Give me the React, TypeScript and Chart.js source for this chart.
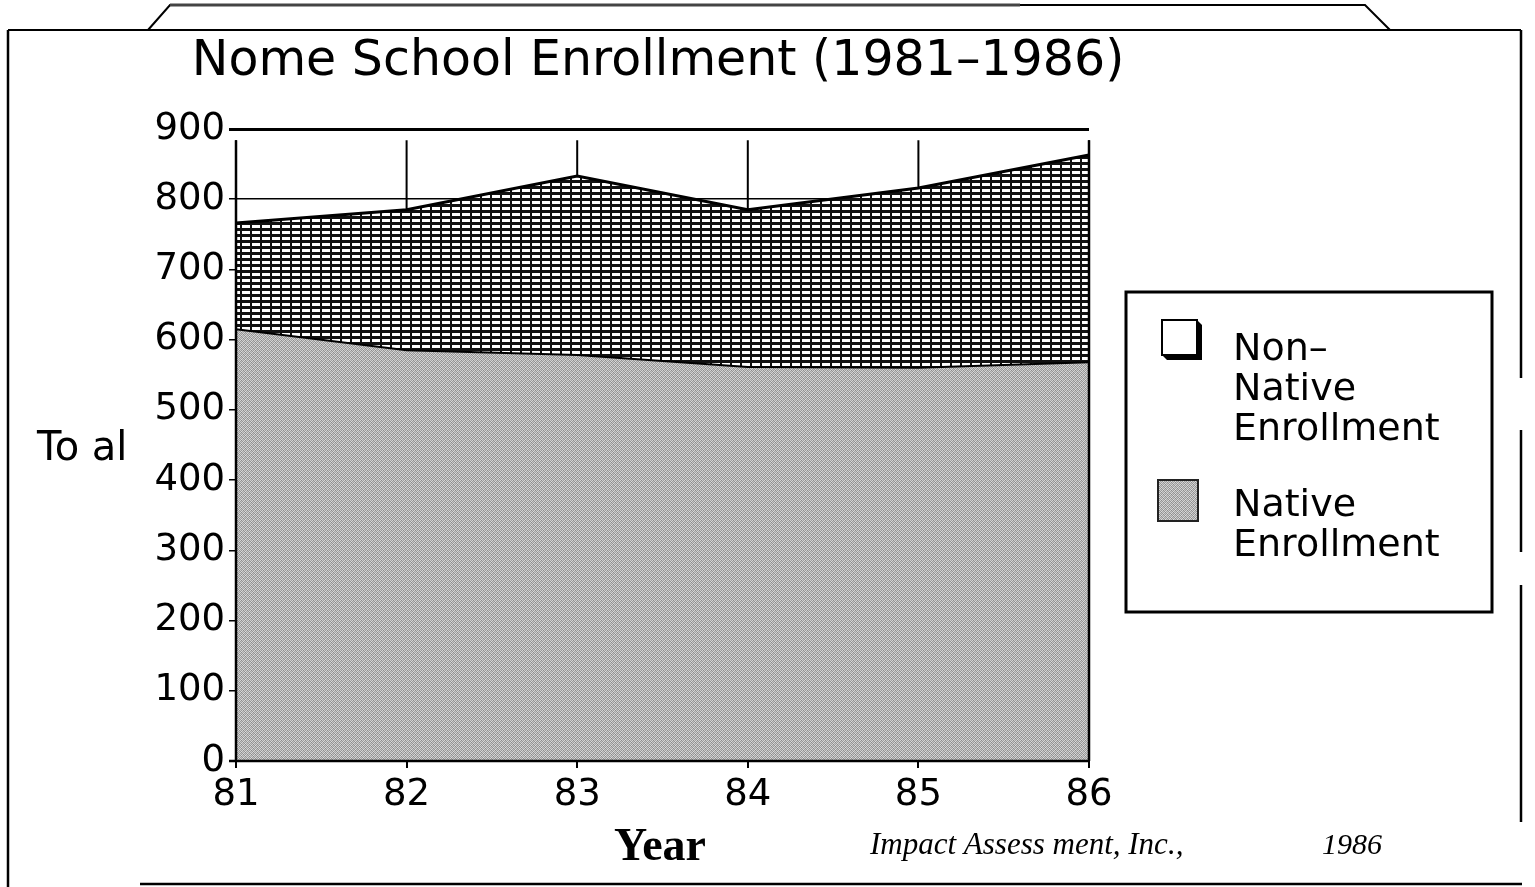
import React, { useEffect, useRef } from "react";
import { Chart, registerables } from "chart.js";

Chart.register(...registerables);

// ---- data ----
const years = ["81", "82", "83", "84", "85", "86"];
const nativeEnrollment = [615, 585, 578, 561, 560, 568];
const nonNativeEnrollment = [151, 200, 255, 224, 256, 295];
const yMin = 0;
const yMax = 900;
const yStep = 100;
const gridTopValue = 884;

const titleText = "Nome School Enrollment (1981\u20131986)";
const yAxisLabel = "To al";
const xAxisLabel = "Year";
const creditText = "Impact Assess ment, Inc.,";
const creditYear = "1986";
const nonNativeLegend = ["Non\u2013", "Native", "Enrollment"];
const nativeLegend = ["Native", "Enrollment"];

const SANS = '"DejaVu Sans", "Noto Sans", sans-serif';
const SERIF = '"Liberation Serif", "DejaVu Serif", serif';

function makeHatch(): CanvasPattern | string {
  const c = document.createElement("canvas");
  c.width = 10;
  c.height = 6;
  const g = c.getContext("2d");
  if (!g) return "#888";
  g.fillStyle = "#ffffff";
  g.fillRect(0, 0, 10, 6);
  g.fillStyle = "#111111";
  g.fillRect(0, 0, 2, 6);
  g.fillRect(0, 0, 10, 3);
  return g.createPattern(c, "repeat") || "#888";
}

const stippleTile = [
  [0xd4, 0x8c, 0xcc, 0xa4],
  [0x9c, 0xc4, 0x94, 0xdc],
  [0xcc, 0x9c, 0xd4, 0x8c],
  [0x94, 0xdc, 0xa4, 0xc4],
];

function makeStipple(): CanvasPattern | string {
  const c = document.createElement("canvas");
  c.width = 4;
  c.height = 4;
  const g = c.getContext("2d");
  if (!g) return "#bbb";
  stippleTile.forEach((row, yy) =>
    row.forEach((v, xx) => {
      g.fillStyle = `rgb(${v},${v},${v})`;
      g.fillRect(xx, yy, 1, 1);
    })
  );
  return g.createPattern(c, "repeat") || "#bbb";
}

function line(ctx: CanvasRenderingContext2D, pts: number[][], w = 2, color = "#000") {
  ctx.save();
  ctx.strokeStyle = color;
  ctx.lineWidth = w;
  ctx.beginPath();
  pts.forEach((p, i) => (i === 0 ? ctx.moveTo(p[0], p[1]) : ctx.lineTo(p[0], p[1])));
  ctx.stroke();
  ctx.restore();
}

const decorPlugin = {
  id: "decor",
  beforeDatasetsDraw(chart: any) {
    const { ctx } = chart;
    const xs = chart.scales.x;
    const ys = chart.scales.y;
    const top = ys.getPixelForValue(gridTopValue);
    const bottom = ys.getPixelForValue(0);
    xs.ticks.forEach((_: any, i: number) => {
      const px = xs.getPixelForTick(i);
      line(ctx, [[px, top], [px, bottom]], 2);
    });
  },
  afterDatasetsDraw(chart: any) {
    const { ctx } = chart;
    const xs = chart.scales.x;
    const ys = chart.scales.y;
    const top = ys.getPixelForValue(gridTopValue);
    const bottom = ys.getPixelForValue(0);
    const n = xs.ticks.length;
    [0, n - 1].forEach((i) => {
      const px = xs.getPixelForTick(i);
      line(ctx, [[px, top], [px, bottom]], 2.5);
    });
    line(ctx, [[xs.left - 7, bottom], [xs.right + 1, bottom]], 2.5);
  },
  afterDraw(chart: any) {
    const { ctx } = chart;
    const area = chart.chartArea;
    const stipple = chart.data.datasets[0].backgroundColor;
    ctx.save();
    ctx.fillStyle = "#000";
    ctx.textBaseline = "alphabetic";

    // title
    ctx.font = `49px ${SANS}`;
    ctx.textAlign = "center";
    ctx.fillText(titleText, 658, 75);

    // y label
    ctx.font = `40px ${SANS}`;
    ctx.textAlign = "left";
    ctx.fillText(yAxisLabel, 37, 460);

    // x label
    ctx.font = `bold 46px ${SERIF}`;
    ctx.textAlign = "center";
    ctx.fillText(xAxisLabel, 660, 860);

    // credits
    ctx.font = `italic 31px ${SERIF}`;
    ctx.textAlign = "left";
    ctx.fillText(creditText, 870, 854);
    ctx.font = `italic 30px ${SERIF}`;
    ctx.fillText(creditYear, 1322, 854);

    // legend box
    ctx.lineWidth = 3;
    ctx.strokeStyle = "#000";
    ctx.strokeRect(1126, 292, 366, 320);

    // legend item 1: white box with shadow
    const bx = 1162, by = 320, bw = 35, s = 5;
    ctx.beginPath();
    ctx.moveTo(bx + bw, by);
    ctx.lineTo(bx + bw + s, by + s);
    ctx.lineTo(bx + bw + s, by + bw + s);
    ctx.lineTo(bx + s, by + bw + s);
    ctx.lineTo(bx, by + bw);
    ctx.closePath();
    ctx.fill();
    ctx.fillStyle = "#fff";
    ctx.fillRect(bx, by, bw, bw);
    ctx.lineWidth = 2;
    ctx.strokeRect(bx, by, bw, bw);

    // legend item 2: stipple box
    ctx.fillStyle = stipple;
    ctx.fillRect(1158, 480, 40, 41);
    ctx.strokeStyle = "#222";
    ctx.lineWidth = 2;
    ctx.strokeRect(1158, 480, 40, 41);

    ctx.fillStyle = "#000";
    ctx.font = `38px ${SANS}`;
    ctx.textAlign = "left";
    nonNativeLegend.forEach((t, i) => ctx.fillText(t, 1233, 360 + i * 40));
    nativeLegend.forEach((t, i) => ctx.fillText(t, 1233, 516 + i * 40));
    ctx.restore();

    // frame
    line(ctx, [[8, 30], [1521, 30]], 2);
    line(ctx, [[148, 30], [170, 5], [1365, 5], [1390, 30]], 2);
    line(ctx, [[170, 5], [1020, 5]], 3, "#444");
    line(ctx, [[8, 30], [8, 887]], 2.5);
    line(ctx, [[1521, 30], [1521, 378]], 2.5);
    line(ctx, [[1521, 430], [1521, 552]], 2.5);
    line(ctx, [[1521, 585], [1521, 822]], 2.5);
    line(ctx, [[140, 884], [1522, 884]], 2.5);
  },
};

export default function App() {
  const ref = useRef<HTMLCanvasElement | null>(null);

  useEffect(() => {
    if (!ref.current) return;
    const hatch = makeHatch();
    const stipple = makeStipple();
    const chart = new Chart(ref.current, {
      type: "line",
      data: {
        labels: years,
        datasets: [
          {
            label: "Native Enrollment",
            data: nativeEnrollment,
            fill: "origin",
            backgroundColor: stipple as any,
            borderColor: "#000",
            borderWidth: 2,
            pointRadius: 0,
            tension: 0,
          },
          {
            label: "Non-Native Enrollment",
            data: nonNativeEnrollment,
            fill: "-1",
            backgroundColor: hatch as any,
            borderColor: "#000",
            borderWidth: 3,
            pointRadius: 0,
            tension: 0,
          },
        ],
      },
      options: {
        responsive: false,
        animation: false,
        devicePixelRatio: 1,
        layout: { padding: { top: 129, left: 0, right: 446, bottom: 66 } },
        plugins: {
          legend: { display: false },
          title: { display: false },
          tooltip: { enabled: false },
        },
        scales: {
          x: {
            type: "category",
            offset: false,
            grid: {
              display: true,
              drawOnChartArea: false,
              drawTicks: true,
              tickLength: 7,
              color: "#000",
              lineWidth: 2,
            },
            border: { display: false },
            ticks: {
              color: "#000",
              font: { family: SANS, size: 37 },
              padding: 5,
              maxRotation: 0,
              autoSkip: false,
            },
            afterFit: (s: any) => {
              s.height = 60;
            },
          },
          y: {
            stacked: true,
            min: yMin,
            max: yMax,
            grid: {
              color: "#000",
              lineWidth: (c: any) => (c.tick && c.tick.value === yMax ? 3 : 1.5),
              tickLength: 7,
              drawOnChartArea: true,
            },
            border: { display: false },
            ticks: {
              stepSize: yStep,
              color: "#000",
              font: { family: SANS, size: 37 },
              padding: 4,
            },
            afterFit: (s: any) => {
              s.width = 236;
            },
          },
        },
      },
      plugins: [decorPlugin],
    } as any);
    return () => chart.destroy();
  }, []);

  return (
    <div
      style={{
        position: "fixed",
        left: 0,
        top: 0,
        width: 1535,
        height: 887,
        background: "#fff",
      }}
    >
      <canvas ref={ref} width={1535} height={887} style={{ display: "block", width: 1535, height: 887 }} />
    </div>
  );
}
